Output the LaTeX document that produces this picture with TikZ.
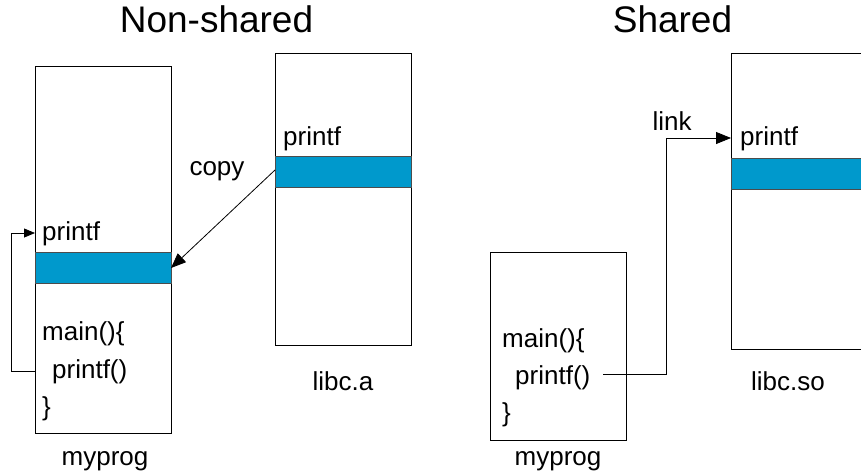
\documentclass[tikz,border=0pt]{standalone}
\usepackage{fontspec}
\setmainfont{Liberation Sans}
\usetikzlibrary{arrows.meta}
\definecolor{band}{RGB}{0,153,204}
\begin{document}
\begin{tikzpicture}[x=1pt,y=-1pt,
  mem/.style={draw=black,line width=0.8pt},
  bandbox/.style={draw=black!70,line width=0.8pt,fill=band},
  lbl/.style={font=\fontsize{26}{30}\selectfont,inner sep=0pt,anchor=west},
  boxname/.style={font=\fontsize{26}{30}\selectfont,inner sep=0pt},
  ttl/.style={font=\fontsize{37}{42}\selectfont,inner sep=0pt,anchor=base},
  conn/.style={draw=black,line width=0.8pt,-{Triangle[length=15pt,width=12pt]}}]
\useasboundingbox (0,0) rectangle (861,475);

% ---- non-shared side ----
\node[ttl] (t1) at (216.5,32) {Non-shared};

\draw[mem] (35,66) rectangle (171,433);
\draw[bandbox] (35,252) rectangle (171,283);
\coordinate (pb) at (171,268);
\node[lbl] (p1) at (42,234) {printf};
\node[lbl] (m1) at (42,334) {main()\{};
\node[lbl] (c1) at (52,372) {printf()};
\node[lbl] (e1) at (42,409) {\}};
\node[boxname] (n1) at (105,461) {myprog};
\coordinate (in1) at (35,233);
\coordinate (out1) at (35,371);

\draw[mem] (275,53) rectangle (411,345);
\draw[bandbox] (275,156) rectangle (411,187);
\coordinate (la) at (275,170);
\node[lbl] (p2) at (283,139) {printf};
\node[boxname] (n2) at (343,381) {libc.a};
\node[boxname] (cp) at (217,171) {copy};

\draw[conn] (la) -- (pb);
\draw[conn,-{Triangle[length=11pt,width=9pt]}] (out1) -- (11,371) -- (11,233) -- (in1);

% ---- shared side ----
\node[ttl] (t2) at (672.5,32) {Shared};

\draw[mem] (490,252) rectangle (626,440);
\node[lbl] (m3) at (502,341) {main()\{};
\node[lbl] (c3) at (515,378) {printf()};
\node[lbl] (e3) at (502,415) {\}};
\node[boxname] (n3) at (558,461) {myprog};
\coordinate (out3) at (603,374);

\draw[mem] (731,53) rectangle (880,349);
\draw[bandbox] (731,158) rectangle (880,189);
\node[lbl] (p4) at (740,139) {printf};
\node[boxname] (n4) at (788,381) {libc.so};
\coordinate (in4) at (731,138);
\node[boxname] (lk) at (672,121) {link};

\draw[conn] (out3) -- (666,374) -- (666,138) -- (in4);
\end{tikzpicture}
\end{document}
